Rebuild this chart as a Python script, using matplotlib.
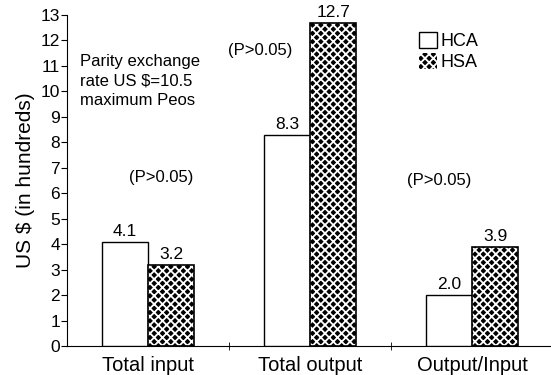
import matplotlib
matplotlib.use("Agg")
import matplotlib.pyplot as plt
from matplotlib.patches import Patch
import numpy as np

plt.rcParams['font.family'] = ['Liberation Sans', 'DejaVu Sans']
plt.rcParams['hatch.linewidth'] = 1.3

categories = ["Total input", "Total output", "Output/Input"]
hca = [4.1, 8.3, 2.0]
hsa = [3.2, 12.7, 3.9]
series_names = ["HCA", "HSA"]
y_ticks = list(range(0, 14))
p_notes = ["(P>0.05)", "(P>0.05)", "(P>0.05)"]
note_text = "Parity exchange\nrate US $=10.5\nmaximum Peos"

fig = plt.figure(figsize=(5.51, 3.75), dpi=100)
ax = fig.add_axes([67/551, 29/375, 486/551, 331/375])

x = np.arange(len(categories))
w = 0.285
HATCH = 'xxxx'

ax.bar(x - w/2, hca, width=w, facecolor='white', edgecolor='black', linewidth=1.0, zorder=3)
ax.bar(x + w/2, hsa, width=w, facecolor='black', edgecolor='white', hatch=HATCH, linewidth=0, zorder=3)
ax.bar(x + w/2, hsa, width=w, facecolor='none', edgecolor='black', linewidth=1.2, zorder=4)

for xi, v in zip(x - w/2, hca):
    ax.annotate(f"{v:.1f}", (xi, v), xytext=(0, 2), textcoords='offset points',
                ha='center', va='bottom', fontsize=12.5)
for xi, v in zip(x + w/2, hsa):
    ax.annotate(f"{v:.1f}", (xi, v), xytext=(0, 2), textcoords='offset points',
                ha='center', va='bottom', fontsize=12.5)

ax.text(-0.42, 11.45, note_text, fontsize=12, ha='left', va='top', linespacing=1.35)
ax.text(0.08, 6.6, p_notes[0], fontsize=12, ha='center', va='center')
ax.text(0.69, 11.6, p_notes[1], fontsize=12, ha='center', va='center')
ax.text(1.8, 6.5, p_notes[2], fontsize=12, ha='center', va='center')

ax.set_xlim(-0.5, 2.5)
ax.set_ylim(0, 13)
ax.set_yticks(y_ticks)
ax.set_xticks(x)
ax.set_xticklabels(categories, fontsize=14.5)
ax.set_xticks([0.5, 1.5], minor=True)
ax.tick_params(axis='x', which='major', length=0, pad=7)
ax.tick_params(axis='x', which='minor', length=6, direction='inout')
ax.tick_params(axis='y', labelsize=12.5, length=4, direction='out', pad=1)
ax.set_ylabel("US $ (in hundreds)", fontsize=15, labelpad=4)

for s in ['top', 'right']:
    ax.spines[s].set_visible(False)

handles = [Patch(facecolor='white', edgecolor='black', linewidth=1.0),
           Patch(facecolor='black', edgecolor='white', hatch=HATCH, linewidth=0)]
leg = ax.legend(handles, series_names, loc='upper left', bbox_to_anchor=(0.71, 0.97),
                frameon=False, fontsize=13, handlelength=1.0, handleheight=1.0,
                handletextpad=0.2, labelspacing=0.15, borderaxespad=0)

fig.savefig("out.png", dpi=100)
